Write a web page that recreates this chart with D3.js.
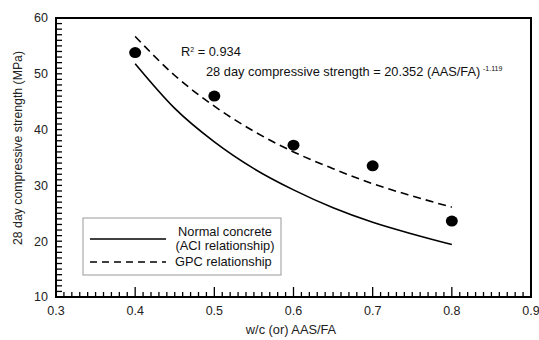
<!DOCTYPE html>
<html>
<head>
<meta charset="utf-8">
<script src="https://cdn.jsdelivr.net/npm/d3@7"></script>
<style>
  body { margin: 0; background: #fff; }
  svg { font-family: "Liberation Sans", Arial, sans-serif; }
</style>
</head>
<body>
<div id="chart"></div>
<script>
// measured points (w/c or AAS/FA vs 28 day strength)
const ratios = [0.4, 0.5, 0.6, 0.7, 0.8];
const strength = [53.8, 46.0, 37.2, 33.5, 23.6];

// curves
const curveX = [0.4, 0.45, 0.5, 0.55, 0.6, 0.65, 0.7, 0.75, 0.8];
const gpcCurve = [56.7, 49.7, 44.2, 39.7, 36.0, 33.0, 30.3, 28.1, 26.1];
const aciCurve = [51.8, 43.8, 37.8, 33.0, 29.2, 26.0, 23.4, 21.3, 19.4];

const xTicks = [0.3, 0.4, 0.5, 0.6, 0.7, 0.8, 0.9];
const yTicks = [10, 20, 30, 40, 50, 60];

const width = 539, height = 340;
const margin = { top: 18, right: 8, bottom: 43, left: 56 };

const svg = d3.select('#chart').append('svg')
  .attr('width', width)
  .attr('height', height);

const x = d3.scaleLinear().domain([0.3, 0.9]).range([margin.left, width - margin.right]);
const y = d3.scaleLinear().domain([10, 60]).range([height - margin.bottom, margin.top]);

// minor ticks
const xMinor = d3.range(30, 91).map(d => d / 100);
const yMinor = d3.range(10, 61);

const xAxis = svg.append('g')
  .attr('transform', `translate(0,${y(10)})`);
xAxis.selectAll('line.minor')
  .data(xMinor)
  .join('line')
  .attr('x1', d => x(d)).attr('x2', d => x(d))
  .attr('y1', 0)
  .attr('y2', d => xTicks.some(t => Math.abs(t - d) < 1e-6) ? -10 : -5)
  .attr('stroke', '#000').attr('stroke-width', 1.3);
xAxis.selectAll('text')
  .data(xTicks)
  .join('text')
  .attr('x', d => x(d))
  .attr('y', 18)
  .attr('text-anchor', 'middle')
  .attr('font-size', 12.5)
  .attr('fill', '#222')
  .text(d => d3.format('.1f')(d));

const yAxis = svg.append('g')
  .attr('transform', `translate(${x(0.3)},0)`);
yAxis.selectAll('line')
  .data(yMinor)
  .join('line')
  .attr('x1', 0).attr('x2', 6)
  .attr('y1', d => y(d)).attr('y2', d => y(d))
  .attr('stroke', '#000').attr('stroke-width', 1.3);
yAxis.selectAll('text')
  .data(yTicks)
  .join('text')
  .attr('x', -8)
  .attr('y', d => y(d))
  .attr('dy', '0.35em')
  .attr('text-anchor', 'end')
  .attr('font-size', 12.5)
  .attr('fill', '#222')
  .text(d => d);

// frame
svg.append('rect')
  .attr('x', x(0.3)).attr('y', y(60))
  .attr('width', x(0.9) - x(0.3))
  .attr('height', y(10) - y(60))
  .attr('fill', 'none')
  .attr('stroke', '#000')
  .attr('stroke-width', 2);

const line = d3.line()
  .x(d => x(d[0]))
  .y(d => y(d[1]))
  .curve(d3.curveMonotoneX);

svg.append('path')
  .datum(curveX.map((v, i) => [v, aciCurve[i]]))
  .attr('d', line)
  .attr('fill', 'none')
  .attr('stroke', '#000')
  .attr('stroke-width', 1.6);

svg.append('path')
  .datum(curveX.map((v, i) => [v, gpcCurve[i]]))
  .attr('d', line)
  .attr('fill', 'none')
  .attr('stroke', '#000')
  .attr('stroke-width', 1.6)
  .attr('stroke-dasharray', '8,5');

svg.append('g')
  .selectAll('ellipse')
  .data(ratios.map((v, i) => [v, strength[i]]))
  .join('ellipse')
  .attr('cx', d => x(d[0]))
  .attr('cy', d => y(d[1]))
  .attr('rx', 6)
  .attr('ry', 5.5)
  .attr('fill', '#000');

// equation annotation
const r2 = svg.append('text')
  .attr('x', 181).attr('y', 56)
  .attr('font-size', 12.8)
  .attr('fill', '#111');
r2.append('tspan').text('R');
r2.append('tspan').attr('font-size', 7).attr('dy', -4).text('2');
r2.append('tspan').attr('dy', 4).text(' = 0.934');

svg.append('text')
  .attr('x', 206).attr('y', 76)
  .attr('font-size', 12.8)
  .attr('fill', '#111')
  .text('28 day compressive strength = 20.352 (AAS/FA)');
svg.append('text')
  .attr('x', 483).attr('y', 71)
  .attr('font-size', 7)
  .attr('fill', '#111')
  .text('-1.119');

// legend
const legend = svg.append('g');
legend.append('rect')
  .attr('x', 83).attr('y', 218)
  .attr('width', 198).attr('height', 57)
  .attr('fill', '#fff')
  .attr('stroke', '#999')
  .attr('stroke-width', 1);
legend.append('line')
  .attr('x1', 90).attr('x2', 166).attr('y1', 239).attr('y2', 239)
  .attr('stroke', '#000').attr('stroke-width', 1.6);
legend.append('line')
  .attr('x1', 90).attr('x2', 166).attr('y1', 262).attr('y2', 262)
  .attr('stroke', '#000').attr('stroke-width', 1.6)
  .attr('stroke-dasharray', '7,5');
legend.selectAll('text')
  .data([['Normal concrete', 236, 225, 'middle'], ['(ACI relationship)', 250, 225, 'middle'], ['GPC relationship', 266, 175, 'start']])
  .join('text')
  .attr('x', d => d[2])
  .attr('y', d => d[1])
  .attr('text-anchor', d => d[3])
  .attr('font-size', 12.8)
  .attr('fill', '#111')
  .text(d => d[0]);

// axis titles
svg.append('text')
  .attr('x', 291).attr('y', 334)
  .attr('text-anchor', 'middle')
  .attr('font-size', 12.8)
  .attr('fill', '#222')
  .text('w/c (or) AAS/FA');

svg.append('text')
  .attr('transform', 'translate(22,148) rotate(-90)')
  .attr('text-anchor', 'middle')
  .attr('font-size', 12.3)
  .attr('fill', '#222')
  .text('28 day compressive strength (MPa)');
</script>
</body>
</html>
